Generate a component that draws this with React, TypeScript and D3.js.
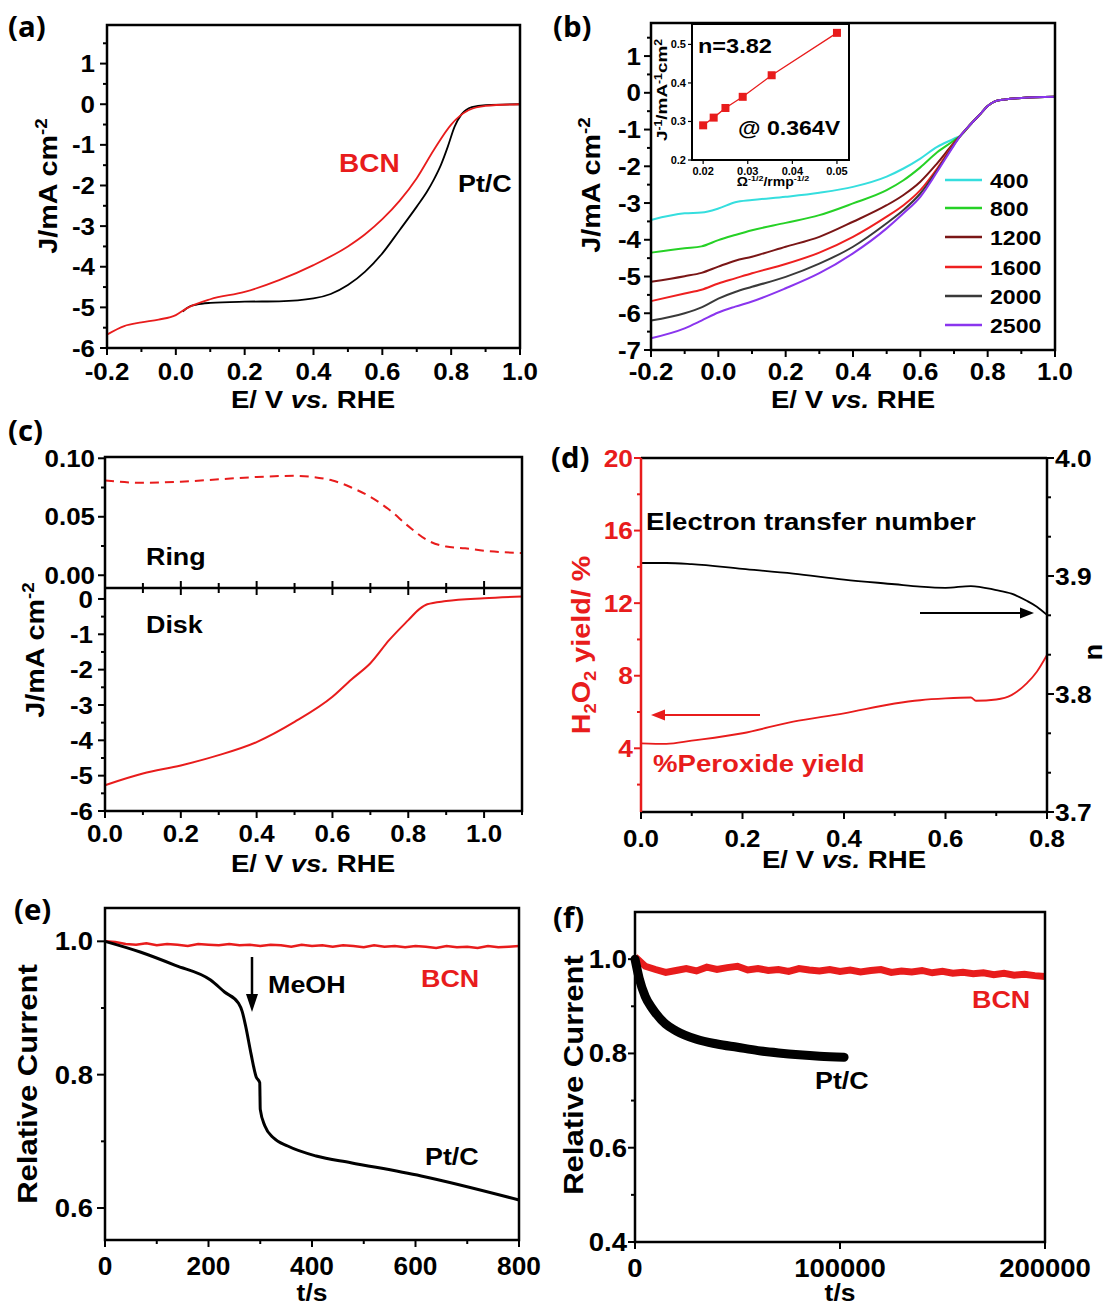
import React from 'react';
import * as d3 from 'd3';

const F = '"Liberation Sans", Arial, Helvetica, sans-serif';
const FL = '"Open Sans", "Liberation Sans", sans-serif';
const RED = '#e81c1c';

// ---------- (a) LSV BCN vs Pt/C ----------
const aBCN_E = [-0.2, -0.15, -0.1, -0.05, 0, 0.03, 0.1, 0.2, 0.3, 0.4, 0.5, 0.55, 0.6, 0.65, 0.7, 0.75, 0.8, 0.85, 0.9, 1.0];
const aBCN_J = [-5.67, -5.46, -5.37, -5.3, -5.19, -5.03, -4.8, -4.62, -4.33, -3.96, -3.5, -3.2, -2.83, -2.38, -1.82, -1.12, -0.5, -0.15, -0.04, 0.0];
const aPt_E = [0.02, 0.04, 0.06, 0.1, 0.2, 0.3, 0.4, 0.45, 0.5, 0.55, 0.6, 0.65, 0.7, 0.73, 0.75, 0.77, 0.79, 0.81, 0.83, 0.86, 0.9, 1.0];
const aPt_J = [-5.1, -4.98, -4.93, -4.89, -4.86, -4.85, -4.78, -4.67, -4.45, -4.12, -3.67, -3.1, -2.52, -2.15, -1.85, -1.5, -1.05, -0.55, -0.25, -0.07, -0.02, 0.0];

// ---------- (b) rotation-rate LSVs ----------
const bE = [-0.2, -0.1, -0.05, 0, 0.05, 0.1, 0.2, 0.3, 0.4, 0.5, 0.55, 0.6, 0.65, 0.7, 0.72, 0.75, 0.78, 0.8, 0.82, 0.85, 0.9, 1.0];
const b400 = [-3.46, -3.28, -3.26, -3.15, -2.98, -2.92, -2.83, -2.72, -2.56, -2.28, -2.06, -1.79, -1.47, -1.25, -1.16, -0.85, -0.56, -0.36, -0.24, -0.18, -0.14, -0.11];
const b800 = [-4.35, -4.23, -4.18, -4.01, -3.87, -3.74, -3.54, -3.33, -3.01, -2.65, -2.38, -2.03, -1.62, -1.3, -1.16, -0.85, -0.56, -0.36, -0.24, -0.18, -0.14, -0.11];
const b1200 = [-5.14, -4.99, -4.9, -4.73, -4.57, -4.46, -4.19, -3.92, -3.51, -3.06, -2.78, -2.42, -1.92, -1.36, -1.16, -0.85, -0.56, -0.36, -0.24, -0.18, -0.14, -0.11];
const b1600 = [-5.67, -5.46, -5.36, -5.19, -5.05, -4.91, -4.66, -4.35, -3.92, -3.37, -3.06, -2.65, -2.06, -1.38, -1.16, -0.85, -0.56, -0.36, -0.24, -0.18, -0.14, -0.11];
const b2000 = [-6.2, -6.0, -5.84, -5.6, -5.42, -5.28, -5.01, -4.65, -4.19, -3.55, -3.19, -2.74, -2.11, -1.41, -1.16, -0.85, -0.56, -0.36, -0.24, -0.18, -0.14, -0.11];
const b2500 = [-6.68, -6.41, -6.2, -5.98, -5.82, -5.68, -5.32, -4.91, -4.37, -3.69, -3.28, -2.83, -2.15, -1.43, -1.16, -0.85, -0.56, -0.36, -0.24, -0.18, -0.14, -0.11];
const bRates = ['400', '800', '1200', '1600', '2000', '2500'];
const bColors = ['#35dede', '#26d126', '#7a1616', '#ee2020', '#3a3a3a', '#8a35ee'];
// inset K-L plot
const kX = [0.02, 0.02236, 0.025, 0.02887, 0.03536, 0.05];
const kY = [0.29, 0.31, 0.335, 0.364, 0.42, 0.53];

// ---------- (c) RRDE ring / disk ----------
const ringE = [0, 0.1, 0.2, 0.3, 0.4, 0.5, 0.6, 0.65, 0.7, 0.75, 0.8, 0.85, 0.9, 0.95, 1.0, 1.1];
const ringJ = [0.081, 0.079, 0.08, 0.082, 0.084, 0.085, 0.081, 0.075, 0.067, 0.056, 0.042, 0.03, 0.0245, 0.023, 0.021, 0.019];
const diskE = [0, 0.1, 0.2, 0.3, 0.4, 0.5, 0.6, 0.65, 0.7, 0.75, 0.8, 0.83, 0.85, 0.9, 1.0, 1.1];
const diskJ = [-5.27, -4.94, -4.71, -4.42, -4.05, -3.48, -2.77, -2.28, -1.82, -1.16, -0.6, -0.28, -0.15, -0.06, 0.02, 0.07];

// ---------- (d) n and H2O2 yield ----------
const nE = [0, 0.05, 0.1, 0.2, 0.3, 0.4, 0.5, 0.55, 0.6, 0.65, 0.7, 0.73, 0.76, 0.78, 0.8];
const nV = [3.911, 3.911, 3.91, 3.906, 3.902, 3.897, 3.893, 3.891, 3.89, 3.8915, 3.888, 3.885, 3.879, 3.874, 3.867];
const hE = [0, 0.05, 0.1, 0.2, 0.3, 0.4, 0.5, 0.55, 0.6, 0.65, 0.66, 0.7, 0.73, 0.76, 0.78, 0.8];
const hV = [4.27, 4.24, 4.42, 4.83, 5.47, 5.93, 6.47, 6.65, 6.75, 6.8, 6.62, 6.69, 6.93, 7.58, 8.22, 9.14];

// ---------- (e) methanol tolerance ----------
const ePtT = [0, 68, 136, 204, 231, 258, 265, 272, 282, 292, 299, 300, 309, 326, 353, 408, 475, 611, 800];
const ePtV = [1.0, 0.984, 0.964, 0.942, 0.924, 0.907, 0.895, 0.872, 0.832, 0.797, 0.788, 0.748, 0.723, 0.705, 0.693, 0.678, 0.668, 0.648, 0.612];
const eBT = [0, 20, 40, 60, 80, 100, 120, 140, 160, 180, 200, 220, 240, 260, 280, 300, 320, 340, 360, 380, 400, 420, 440, 460, 480, 500, 520, 540, 560, 580, 600, 620, 640, 660, 680, 700, 720, 740, 760, 780, 800];
const eBV = [1.0, 0.999, 0.996, 0.995, 0.997, 0.994, 0.996, 0.995, 0.993, 0.996, 0.995, 0.994, 0.996, 0.994, 0.995, 0.993, 0.995, 0.994, 0.992, 0.995, 0.993, 0.994, 0.992, 0.994, 0.993, 0.991, 0.994, 0.992, 0.993, 0.991, 0.993, 0.992, 0.99, 0.993, 0.991, 0.992, 0.99, 0.993, 0.991, 0.992, 0.993];

// ---------- (f) durability ----------
const fPtT = [0, 2000, 5000, 8000, 10000, 15000, 20000, 30000, 40000, 50000, 60000, 70000, 80000, 90000, 102000];
const fPtV = [1.0, 0.96, 0.921, 0.898, 0.886, 0.862, 0.848, 0.83, 0.82, 0.813, 0.806, 0.801, 0.797, 0.794, 0.792];
const fBT = [0, 5000, 10000, 15000, 20000, 25000, 30000, 35000, 40000, 45000, 50000, 55000, 60000, 65000, 70000, 75000, 80000, 85000, 90000, 95000, 100000, 105000, 110000, 115000, 120000, 125000, 130000, 135000, 140000, 145000, 150000, 155000, 160000, 165000, 170000, 175000, 180000, 185000, 190000, 195000, 200000];
const fBV = [1.005, 0.985, 0.978, 0.972, 0.976, 0.98, 0.975, 0.983, 0.978, 0.982, 0.985, 0.977, 0.98, 0.976, 0.978, 0.974, 0.98, 0.977, 0.975, 0.978, 0.974, 0.977, 0.973, 0.976, 0.978, 0.972, 0.975, 0.973, 0.976, 0.971, 0.974, 0.97, 0.972, 0.969, 0.971, 0.967, 0.97, 0.966, 0.968, 0.965, 0.963];

type Sc = d3.ScaleLinear<number, number>;

function T({ x, y, size = 24, anchor = 'start', color = '#000', rot = 0, sx = 1.1, family = F, italic = false, children }: any) {
  return (
    <text transform={`translate(${x},${y}) rotate(${rot}) scale(${sx},1)`} fontSize={size} textAnchor={anchor}
      fill={color} fontWeight="bold" fontFamily={family} fontStyle={italic ? 'italic' : 'normal'}>{children}</text>
  );
}

function Axis({ scale, side, pos, major, minor = [], fmt, size = 24, sx = 1.08, color = '#000', len = 7, mlen = 4, gap = 3, off = 31, sw = 2 }: any) {
  const out: any[] = [];
  const tick = (v: number, L: number, k: string) => {
    const p = scale(v);
    if (side === 'left') return <line key={k} x1={pos - L} x2={pos} y1={p} y2={p} stroke={color} strokeWidth={sw} />;
    if (side === 'right') return <line key={k} x1={pos} x2={pos + L} y1={p} y2={p} stroke={color} strokeWidth={sw} />;
    return <line key={k} x1={p} x2={p} y1={pos} y2={pos + L} stroke={color} strokeWidth={sw} />;
  };
  major.forEach((v: number, i: number) => out.push(tick(v, len, 'M' + i)));
  minor.forEach((v: number, i: number) => out.push(tick(v, mlen, 'm' + i)));
  if (fmt) major.forEach((v: number, i: number) => {
    const p = scale(v);
    if (side === 'left') out.push(<T key={'L' + i} x={pos - len - gap} y={p + size * 0.36} size={size} sx={sx} anchor="end" color={color}>{fmt(v)}</T>);
    else if (side === 'right') out.push(<T key={'L' + i} x={pos + len + gap} y={p + size * 0.36} size={size} sx={sx} anchor="start" color={color}>{fmt(v)}</T>);
    else out.push(<T key={'L' + i} x={p} y={pos + off} size={size} sx={sx} anchor="middle" color={color}>{fmt(v)}</T>);
  });
  return <g>{out}</g>;
}

const line2 = (xs: number[], ys: number[], sx: Sc, sy: Sc, curve: any = d3.curveMonotoneX) =>
  d3.line<[number, number]>().x(d => sx(d[0])).y(d => sy(d[1])).curve(curve)(d3.zip(xs, ys) as [number, number][]) || '';

const f1 = (v: number) => v.toFixed(1);
const f2 = (v: number) => v.toFixed(2);
const fi = (v: number) => String(v);

function Jlabel({ x, y, size = 25, sx = 1.15, color = '#000' }: any) {
  return (
    <T x={x} y={y} rot={-90} size={size} sx={sx} anchor="middle" color={color}>
      J/mA cm<tspan dy={-size * 0.42} fontSize={size * 0.65}>-2</tspan>
    </T>
  );
}
function Elabel({ x, y, size = 24, sx = 1.15 }: any) {
  return (
    <T x={x} y={y} size={size} sx={sx} anchor="middle">
      E/ V <tspan fontStyle="italic">vs.</tspan> RHE
    </T>
  );
}

export default function App() {
  // (a)
  const xa = d3.scaleLinear().domain([-0.2, 1.0]).range([107, 520]);
  const ya = d3.scaleLinear().domain([-6, 1.95]).range([348, 25]);
  // (b)
  const xb = d3.scaleLinear().domain([-0.2, 1.0]).range([651, 1055]);
  const yb = d3.scaleLinear().domain([-7, 1.9]).range([350, 23]);
  const xk = d3.scaleLinear().domain([0.0175, 0.0527]).range([692, 849]);
  const yk = d3.scaleLinear().domain([0.2, 0.553]).range([160, 24]);
  // (c)
  const xc = d3.scaleLinear().domain([0, 1.1]).range([105, 522]);
  const ycr = d3.scaleLinear().domain([-0.0109, 0.1011]).range([588, 457]);
  const ycd = d3.scaleLinear().domain([-6, 0.31]).range([811, 588]);
  // (d)
  const xd = d3.scaleLinear().domain([0, 0.8]).range([641, 1047]);
  const ydl = d3.scaleLinear().domain([0.49, 20]).range([812, 458]);
  const ydr = d3.scaleLinear().domain([3.7, 4.0]).range([812, 458]);
  // (e)
  const xe = d3.scaleLinear().domain([0, 800]).range([105, 519]);
  const ye = d3.scaleLinear().domain([0.552, 1.05]).range([1240, 908]);
  // (f)
  const xf = d3.scaleLinear().domain([0, 200000]).range([635, 1045]);
  const yf = d3.scaleLinear().domain([0.4, 1.1]).range([1242, 912]);

  const series = [b400, b800, b1200, b1600, b2000, b2500];
  const legY = [180, 208, 237, 267, 296, 325];

  const frame = (x0: number, y0: number, x1: number, y1: number) =>
    <rect x={x0} y={y0} width={x1 - x0} height={y1 - y0} fill="none" stroke="#000" strokeWidth={2.5} />;

  return (
    <svg width={1108} height={1308} style={{ position: 'absolute', left: 0, top: 0, background: '#fff' }}>
      <rect x={0} y={0} width={1108} height={1308} fill="#fff" />

      {/* ================= (a) ================= */}
      <T x={8} y={37} size={28} family={FL} sx={1.05}>(a)</T>
      <path d={line2(aPt_E, aPt_J, xa, ya)} fill="none" stroke="#000" strokeWidth={1.8} />
      <path d={line2(aBCN_E, aBCN_J, xa, ya)} fill="none" stroke={RED} strokeWidth={1.8} />
      {frame(107, 25, 520, 348)}
      <Axis scale={ya} side="left" pos={107} major={[-6, -5, -4, -3, -2, -1, 0, 1]} minor={[-5.5, -4.5, -3.5, -2.5, -1.5, -0.5, 0.5, 1.5]} fmt={fi} gap={5} />
      <Axis scale={xa} side="bottom" pos={348} major={[-0.2, 0, 0.2, 0.4, 0.6, 0.8, 1.0]} minor={[-0.1, 0.1, 0.3, 0.5, 0.7, 0.9]} fmt={f1} off={32} />
      <Jlabel x={57} y={186} />
      <Elabel x={313} y={408} />
      <T x={339} y={172} size={25} color={RED} sx={1.12}>BCN</T>
      <T x={458} y={192} size={24} sx={1.12}>Pt/C</T>

      {/* ================= (b) ================= */}
      <T x={553} y={37} size={28} family={FL} sx={1.05}>(b)</T>
      {series.map((s, i) => (
        <path key={'b' + i} d={line2(bE, s, xb, yb)} fill="none" stroke={bColors[i]} strokeWidth={2} />
      ))}
      {frame(651, 23, 1055, 350)}
      <Axis scale={yb} side="left" pos={651} major={[-7, -6, -5, -4, -3, -2, -1, 0, 1]} minor={[-6.5, -5.5, -4.5, -3.5, -2.5, -1.5, -0.5, 0.5, 1.5]} fmt={fi} gap={3} />
      <Axis scale={xb} side="bottom" pos={350} major={[-0.2, 0, 0.2, 0.4, 0.6, 0.8, 1.0]} minor={[-0.1, 0.1, 0.3, 0.5, 0.7, 0.9]} fmt={f1} off={30} />
      <Jlabel x={600} y={185} />
      <Elabel x={853} y={408} />
      {bRates.map((r, i) => (
        <g key={'lg' + i}>
          <line x1={945} x2={982} y1={legY[i]} y2={legY[i]} stroke={bColors[i]} strokeWidth={2.5} />
          <T x={990} y={legY[i] + 7.5} size={21} sx={1.1}>{r}</T>
        </g>
      ))}
      {/* inset */}
      <rect x={692} y={24} width={157} height={136} fill="#fff" stroke="#000" strokeWidth={2} />
      <path d={line2(kX, kY, xk, yk, d3.curveLinear)} fill="none" stroke={RED} strokeWidth={1.3} />
      {kX.map((v, i) => (
        <rect key={'k' + i} x={xk(v) - 4} y={yk(kY[i]) - 4} width={8} height={8} fill={RED} />
      ))}
      <Axis scale={xk} side="bottom" pos={160} major={[0.02, 0.03, 0.04, 0.05]} fmt={f2} size={10.5} sx={1.05} len={4} sw={1.2} off={15} />
      <Axis scale={yk} side="left" pos={692} major={[0.2, 0.3, 0.4, 0.5]} fmt={f1} size={10.5} sx={1.05} len={4} gap={2} sw={1.2} />
      <T x={773} y={186} size={12.5} sx={1.12} anchor="middle">
        Ω<tspan dy={-5} fontSize={8}>-1/2</tspan><tspan dy={5}>/rmp</tspan><tspan dy={-5} fontSize={8}>-1/2</tspan>
      </T>
      <T x={667} y={90} rot={-90} size={15.5} sx={1.22} anchor="middle">
        J<tspan dy={-5.5} fontSize={10}>-1</tspan><tspan dy={5.5}>/mA</tspan><tspan dy={-5.5} fontSize={10}>-1</tspan><tspan dy={5.5}>cm</tspan><tspan dy={-5.5} fontSize={10}>2</tspan>
      </T>
      <T x={698} y={53} size={21} sx={1.12}>n=3.82</T>
      <T x={738} y={135} size={21} sx={1.1}>@ 0.364V</T>

      {/* ================= (c) ================= */}
      <T x={8} y={441} size={28} family={FL} sx={1.05}>(c)</T>
      <path d={line2(ringE, ringJ, xc, ycr)} fill="none" stroke={RED} strokeWidth={2} strokeDasharray="9,6" />
      <path d={line2(diskE, diskJ, xc, ycd)} fill="none" stroke={RED} strokeWidth={2} />
      {frame(105, 457, 522, 811)}
      <line x1={105} x2={522} y1={588} y2={588} stroke="#000" strokeWidth={2.5} />
      {[0, 0.1, 0.2, 0.3, 0.4, 0.5, 0.6, 0.7, 0.8, 0.9, 1.0].map((v, i) => (
        <line key={'dv' + i} x1={xc(v)} x2={xc(v)} y1={i % 2 === 0 ? 581 : 583} y2={i % 2 === 0 ? 595 : 593} stroke="#000" strokeWidth={2} />
      ))}
      <Axis scale={ycr} side="left" pos={105} major={[0, 0.05, 0.1]} minor={[0.025, 0.075]} fmt={f2} gap={3} />
      <Axis scale={ycd} side="left" pos={105} major={[-6, -5, -4, -3, -2, -1, 0]} minor={[-5.5, -4.5, -3.5, -2.5, -1.5, -0.5]} fmt={fi} gap={5} />
      <Axis scale={xc} side="bottom" pos={811} major={[0, 0.2, 0.4, 0.6, 0.8, 1.0]} minor={[0.1, 0.3, 0.5, 0.7, 0.9, 1.1]} fmt={f1} off={31} />
      <Jlabel x={44} y={650} />
      <Elabel x={313} y={872} />
      <T x={146} y={565} size={24} sx={1.12}>Ring</T>
      <T x={146} y={633} size={24} sx={1.12}>Disk</T>

      {/* ================= (d) ================= */}
      <T x={551} y={468} size={28} family={FL} sx={1.05}>(d)</T>
      <path d={line2(nE, nV, xd, ydr)} fill="none" stroke="#000" strokeWidth={1.8} />
      <path d={line2(hE, hV, xd, ydl)} fill="none" stroke={RED} strokeWidth={1.8} />
      <line x1={641} x2={1047} y1={458} y2={458} stroke="#000" strokeWidth={2.5} />
      <line x1={641} x2={1047} y1={812} y2={812} stroke="#000" strokeWidth={2.5} />
      <line x1={1047} x2={1047} y1={458} y2={812} stroke="#000" strokeWidth={2.5} />
      <line x1={641} x2={641} y1={458} y2={812} stroke={RED} strokeWidth={2.5} />
      <Axis scale={ydl} side="left" pos={641} major={[4, 8, 12, 16, 20]} minor={[2, 6, 10, 14, 18]} fmt={fi} color={RED} gap={1} sx={1.1} />
      <Axis scale={ydr} side="right" pos={1047} major={[3.7, 3.8, 3.9, 4.0]} minor={[3.7333, 3.7667, 3.8333, 3.8667, 3.9333, 3.9667]} fmt={f1} gap={1} sx={1.1} />
      <Axis scale={xd} side="bottom" pos={812} major={[0, 0.2, 0.4, 0.6, 0.8]} minor={[0.1, 0.3, 0.5, 0.7]} fmt={f1} off={35} />
      <Elabel x={844} y={868} />
      <T x={590} y={645} rot={-90} size={25} sx={1.15} anchor="middle" color={RED}>
        H<tspan dy={6} fontSize={16}>2</tspan><tspan dy={-6}>O</tspan><tspan dy={6} fontSize={16}>2</tspan><tspan dy={-6}> yield/ %</tspan>
      </T>
      <T x={1102} y={652} rot={-90} size={25} sx={1.1} anchor="middle">n</T>
      <T x={646} y={530} size={24} sx={1.15}>Electron transfer number</T>
      <T x={653} y={772} size={24} sx={1.15} color={RED}>%Peroxide yield</T>
      {/* arrows */}
      <line x1={920} x2={1024} y1={613} y2={613} stroke="#000" strokeWidth={2} />
      <path d="M1034,613 L1020,607.5 L1020,618.5 Z" fill="#000" />
      <line x1={760} x2={661} y1={715} y2={715} stroke={RED} strokeWidth={2} />
      <path d="M651,715 L665,709.5 L665,720.5 Z" fill={RED} />

      {/* ================= (e) ================= */}
      <T x={14} y={920} size={28} family={FL} sx={1.05}>(e)</T>
      <path d={line2(eBT, eBV, xe, ye, d3.curveLinear)} fill="none" stroke={RED} strokeWidth={2.5} />
      <path d={line2(ePtT, ePtV, xe, ye)} fill="none" stroke="#000" strokeWidth={3} />
      {frame(105, 908, 519, 1240)}
      <Axis scale={ye} side="left" pos={105} major={[0.6, 0.8, 1.0]} minor={[0.7, 0.9]} fmt={f1} size={25} sx={1.1} len={8} gap={4} />
      <Axis scale={xe} side="bottom" pos={1240} major={[0, 200, 400, 600, 800]} minor={[100, 300, 500, 700]} fmt={fi} size={25} sx={1.05} off={35} />
      <T x={37} y={1084} rot={-90} size={27} sx={1.15} anchor="middle">Relative Current</T>
      <T x={312} y={1301} size={24} sx={1.1} anchor="middle">t/s</T>
      <line x1={252} x2={252} y1={957} y2={996} stroke="#000" strokeWidth={2.5} />
      <path d="M252,1012 L246,994 L258,994 Z" fill="#000" />
      <T x={268} y={993} size={24} sx={1.12}>MeOH</T>
      <T x={421} y={987} size={24} sx={1.12} color={RED}>BCN</T>
      <T x={425} y={1165} size={24} sx={1.12}>Pt/C</T>

      {/* ================= (f) ================= */}
      <T x={553} y={928} size={28} family={FL} sx={1.05}>(f)</T>
      <path d={line2(fBT, fBV, xf, yf, d3.curveLinear)} fill="none" stroke={RED} strokeWidth={7} />
      <path d={line2(fPtT, fPtV, xf, yf)} fill="none" stroke="#000" strokeWidth={9} strokeLinecap="round" />
      {frame(635, 912, 1045, 1242)}
      <Axis scale={yf} side="left" pos={635} major={[0.4, 0.6, 0.8, 1.0]} minor={[0.5, 0.7, 0.9]} fmt={f1} size={25} sx={1.1} len={7} gap={1} />
      <Axis scale={xf} side="bottom" pos={1242} major={[0, 100000, 200000]} fmt={fi} size={25} sx={1.1} off={35} />
      <T x={583} y={1075} rot={-90} size={27} sx={1.15} anchor="middle">Relative Current</T>
      <T x={840} y={1301} size={24} sx={1.1} anchor="middle">t/s</T>
      <T x={972} y={1008} size={24} sx={1.12} color={RED}>BCN</T>
      <T x={815} y={1089} size={24} sx={1.12}>Pt/C</T>
    </svg>
  );
}
